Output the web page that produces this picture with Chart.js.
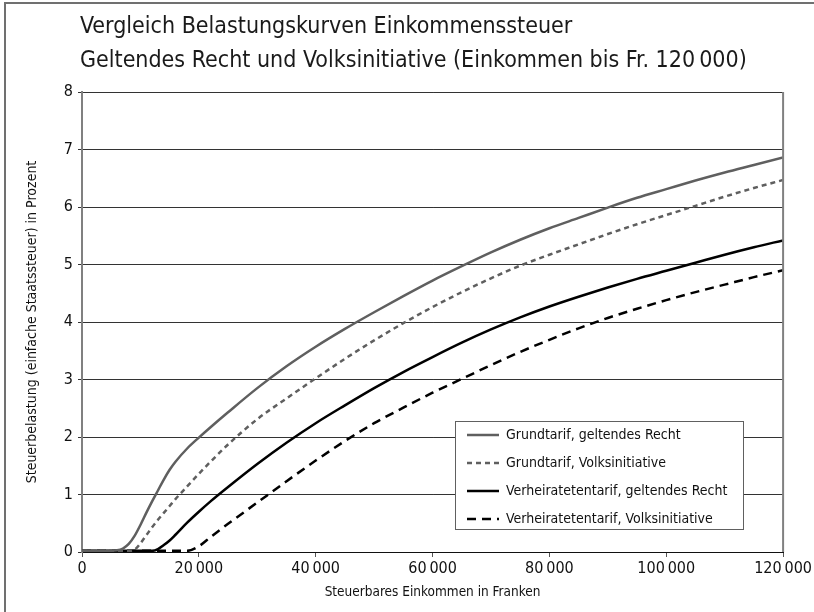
<!DOCTYPE html>
<html>
<head>
<meta charset="utf-8">
<script src="https://cdn.jsdelivr.net/npm/chart.js@4/dist/chart.umd.min.js"></script>
<style>
  html, body { margin: 0; padding: 0; background: #fff; }
  #wrap { width: 814px; height: 612px; position: relative; }
</style>
</head>
<body>
<div id="wrap"><canvas id="c" width="814" height="612"></canvas></div>
<script>
const titleLines = [
  'Vergleich Belastungskurven Einkommenssteuer',
  'Geltendes Recht und Volksinitiative (Einkommen bis Fr. 120\u202F000)'
];
const yAxisTitle = 'Steuerbelastung (einfache Staatssteuer) in Prozent';
const xAxisTitle = 'Steuerbares Einkommen in Franken';
const seriesLabels = [
  'Grundtarif, geltendes Recht',
  'Grundtarif, Volksinitiative',
  'Verheiratetentarif, geltendes Recht',
  'Verheiratetentarif, Volksinitiative'
];
const xTickValues = [0, 20000, 40000, 60000, 80000, 100000, 120000];
const xTickLabels = ['0', '20\u202F000', '40\u202F000', '60\u202F000', '80\u202F000', '100\u202F000', '120\u202F000'];

const incomes = [0, 2000, 4000, 6000, 7000, 8000, 9000, 10000, 11000, 12000, 13000, 14000, 15000, 16000, 18000, 20000, 22000, 25000, 30000, 35000, 40000, 45000, 50000, 55000, 60000, 65000, 70000, 75000, 80000, 85000, 90000, 95000, 100000, 105000, 110000, 115000, 120000];
const grundGeltend = [0.02, 0.02, 0.02, 0.03, 0.06, 0.14, 0.28, 0.47, 0.68, 0.88, 1.07, 1.26, 1.43, 1.57, 1.8, 1.99, 2.17, 2.43, 2.85, 3.23, 3.57, 3.88, 4.17, 4.45, 4.72, 4.97, 5.21, 5.43, 5.63, 5.81, 5.99, 6.16, 6.31, 6.46, 6.6, 6.73, 6.86];
const grundInitiative = [0.02, 0.02, 0.02, 0.02, 0.02, 0.02, 0.04, 0.15, 0.29, 0.43, 0.56, 0.68, 0.8, 0.92, 1.14, 1.36, 1.57, 1.87, 2.31, 2.67, 3.02, 3.36, 3.68, 3.98, 4.26, 4.52, 4.76, 4.98, 5.17, 5.35, 5.53, 5.7, 5.86, 6.02, 6.18, 6.33, 6.47];
const verhGeltend = [0.02, 0.02, 0.02, 0.02, 0.02, 0.02, 0.02, 0.02, 0.02, 0.02, 0.05, 0.12, 0.2, 0.3, 0.51, 0.7, 0.88, 1.13, 1.53, 1.9, 2.24, 2.55, 2.85, 3.13, 3.39, 3.64, 3.87, 4.08, 4.27, 4.44, 4.6, 4.75, 4.89, 5.03, 5.17, 5.3, 5.42];
const verhInitiative = [0.02, 0.02, 0.02, 0.02, 0.02, 0.02, 0.02, 0.02, 0.02, 0.02, 0.02, 0.02, 0.02, 0.02, 0.02, 0.1, 0.26, 0.49, 0.86, 1.23, 1.59, 1.93, 2.24, 2.51, 2.77, 3.01, 3.25, 3.48, 3.69, 3.89, 4.07, 4.23, 4.38, 4.52, 4.65, 4.78, 4.9];

const NARROW = '"Liberation Sans Narrow", "DejaVu Sans Condensed", "Liberation Sans", sans-serif';

function pts(vals) { return incomes.map((x, i) => ({ x: x, y: vals[i] })); }

const framePlugin = {
  id: 'frame',
  beforeDraw(chart) {
    const ctx = chart.ctx;
    ctx.save();
    ctx.fillStyle = '#fff';
    ctx.fillRect(0, 0, chart.width, chart.height);
    ctx.strokeStyle = '#707070';
    ctx.lineWidth = 2;
    ctx.beginPath();
    ctx.moveTo(5, 612);
    ctx.lineTo(5, 3);
    ctx.lineTo(814, 3);
    ctx.stroke();
    ctx.restore();
  },
  afterDraw(chart) {
    const ctx = chart.ctx;
    ctx.save();
    ctx.fillStyle = '#1a1a1a';
    ctx.font = '23px ' + NARROW;
    ctx.textBaseline = 'alphabetic';
    ctx.textAlign = 'left';
    ctx.fillText(titleLines[0], 80, 33);
    ctx.fillText(titleLines[1], 80, 67);
    ctx.restore();
  }
};

const borderPlugin = {
  id: 'rightBorder',
  afterDatasetsDraw(chart) {
    const ctx = chart.ctx;
    const a = chart.chartArea;
    ctx.save();
    ctx.strokeStyle = '#808080';
    ctx.lineWidth = 2;
    ctx.beginPath();
    ctx.moveTo(a.right, a.top);
    ctx.lineTo(a.right, a.bottom);
    ctx.stroke();
    // legend box
    const bx = 455, by = 421, bw = 288, bh = 108;
    ctx.fillStyle = '#fff';
    ctx.fillRect(bx, by, bw, bh);
    ctx.strokeStyle = '#606060';
    ctx.lineWidth = 1;
    ctx.strokeRect(bx + 0.5, by + 0.5, bw, bh);
    chart.data.datasets.forEach((ds, i) => {
      const y = 435 + i * 28;
      ctx.strokeStyle = ds.borderColor;
      ctx.lineWidth = ds.borderWidth;
      ctx.setLineDash(ds.borderDash || []);
      ctx.beginPath();
      ctx.moveTo(467, y);
      ctx.lineTo(499, y);
      ctx.stroke();
      ctx.setLineDash([]);
      ctx.fillStyle = '#111';
      ctx.font = '14px ' + NARROW;
      ctx.textBaseline = 'middle';
      ctx.textAlign = 'left';
      ctx.fillText(ds.label, 506, y);
    });
    ctx.restore();
  }
};

new Chart(document.getElementById('c'), {
  type: 'line',
  data: {
    datasets: [
      { label: seriesLabels[0], data: pts(grundGeltend), borderColor: '#5f5f5f', borderWidth: 2.5, borderDash: [] },
      { label: seriesLabels[1], data: pts(grundInitiative), borderColor: '#5f5f5f', borderWidth: 2.5, borderDash: [5, 4] },
      { label: seriesLabels[2], data: pts(verhGeltend), borderColor: '#000', borderWidth: 2.5, borderDash: [] },
      { label: seriesLabels[3], data: pts(verhInitiative), borderColor: '#000', borderWidth: 2.5, borderDash: [9, 6] }
    ]
  },
  options: {
    responsive: false,
    animation: false,
    devicePixelRatio: 1,
    layout: { padding: { left: 10, top: 92, right: 29, bottom: 0 } },
    elements: {
      point: { radius: 0, hoverRadius: 0 },
      line: { cubicInterpolationMode: 'monotone', fill: false }
    },
    plugins: {
      legend: { display: false },
      title: { display: false },
      tooltip: { enabled: false }
    },
    scales: {
      x: {
        type: 'linear',
        min: 0, max: 120000,
        afterFit(s) { s.height = 60; },
        afterBuildTicks(s) { s.ticks = xTickValues.map(v => ({ value: v })); },
        ticks: {
          callback: (v) => xTickLabels[xTickValues.indexOf(v)],
          color: '#111',
          font: { family: NARROW, size: 16 },
          padding: 2,
          maxRotation: 0,
          autoSkip: false
        },
        grid: { drawOnChartArea: false, drawTicks: true, tickLength: 5, color: '#555', lineWidth: 1 },
        border: { display: true, color: '#111', width: 1 },
        title: { display: true, text: xAxisTitle, color: '#111', font: { family: NARROW, size: 13.5 }, padding: { top: 0, bottom: 11 } }
      },
      y: {
        type: 'linear',
        min: 0, max: 8,
        afterFit(s) { s.width = 72; },
        ticks: {
          stepSize: 1,
          color: '#111',
          font: { family: NARROW, size: 16 },
          padding: 5
        },
        grid: { color: '#333', lineWidth: 1, tickLength: 4, drawTicks: true },
        border: { display: true, color: '#808080', width: 2 },
        title: { display: true, text: yAxisTitle, color: '#111', font: { family: NARROW, size: 14 }, padding: { top: 14, bottom: 0 } }
      }
    }
  },
  plugins: [framePlugin, borderPlugin]
});
</script>
</body>
</html>
